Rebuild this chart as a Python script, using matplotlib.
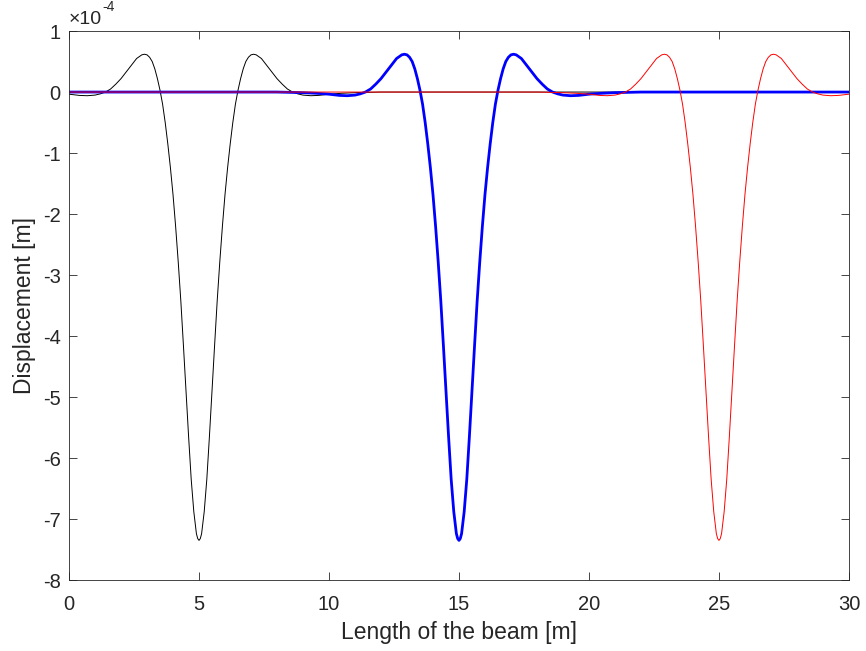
import matplotlib.pyplot as plt
import numpy as np

plt.rcParams['font.family'] = ['Liberation Sans', 'DejaVu Sans']
plt.rcParams['axes.unicode_minus'] = False

# deflection shape under one load (offset from load [m], w [1e-4 m])
offset = [-25.0, -15.0, -10.0, -7.0, -6.0, -5.5, -5.0, -4.6, -4.3, -4.0, -3.8, -3.6, -3.4,
          -3.2, -3.0, -2.8, -2.6, -2.4, -2.2, -2.1, -2.0, -1.9, -1.8, -1.7, -1.6,
          -1.5, -1.4, -1.3, -1.2, -1.1, -1.0, -0.9, -0.8, -0.7, -0.6, -0.5, -0.4,
          -0.3, -0.2, -0.1, -0.05, 0.0, 0.05, 0.1, 0.2, 0.3, 0.4, 0.5, 0.6, 0.7, 0.8, 0.9, 1.0,
          1.1, 1.2, 1.3, 1.4, 1.5, 1.6, 1.7, 1.8, 1.9, 2.0, 2.1, 2.2, 2.4, 2.6,
          2.8, 3.0, 3.2, 3.4, 3.6, 3.8, 4.0, 4.3, 4.6, 5.0, 5.5, 6.0, 7.0, 10.0, 15.0, 25.0]
shape = [0.0, 0.0, 0.0, 0.0, -0.01, -0.02, -0.035, -0.055, -0.06, -0.05, -0.03, 0.0, 0.05,
         0.13, 0.22, 0.33, 0.44, 0.55, 0.61, 0.62, 0.61, 0.57, 0.50, 0.38, 0.22,
         0.03, -0.20, -0.50, -0.85, -1.24, -1.68, -2.20, -2.78, -3.42, -4.15, -4.90, -5.65,
         -6.35, -6.88, -7.24, -7.32, -7.35, -7.32, -7.24, -6.88, -6.35, -5.65, -4.90, -4.15, -3.42, -2.78, -2.20, -1.68,
         -1.24, -0.85, -0.50, -0.20, 0.03, 0.22, 0.38, 0.50, 0.57, 0.61, 0.62, 0.61, 0.55, 0.44,
         0.33, 0.22, 0.13, 0.05, 0.0, -0.03, -0.05, -0.06, -0.055, -0.035, -0.02, -0.01, 0.0, 0.0, 0.0, 0.0]
load_pos = [5, 15, 25]
colors = ['black', 'blue', 'red']
widths = [0.7, 2.0, 0.7]

beam_len = 30
dark = '#262626'

fig = plt.figure(figsize=(8.66, 6.51), dpi=100)
ax = fig.add_axes([0.0797, 0.109, 0.9006, 0.8433])

off = np.array(offset)
for i in [0, 1, 2]:
    ax.plot(load_pos[i] + off, shape, color=colors[i], lw=widths[i])

ax.set_xlim(0, beam_len)
ax.set_ylim(-8, 1)
ax.set_xticks(range(0, 31, 5))
ax.set_yticks(range(-8, 2))
ax.tick_params(direction='in', top=True, right=True, length=6, width=0.6,
               color=dark, labelsize=14.5, labelcolor=dark, pad=6)
ax.tick_params(axis='x', pad=11)
for s in ax.spines.values():
    s.set_color(dark)
    s.set_linewidth(0.6)

ax.set_xlabel('Length of the beam [m]', fontsize=16.5, color=dark, labelpad=5)
ax.set_ylabel('Displacement [m]', fontsize=16.5, color=dark, labelpad=5)

# exponent label like matlab
ax.text(0.0, 1.006, '\u00d710', transform=ax.transAxes, fontsize=14,
        color=dark, va='bottom', ha='left')
ax.annotate('-4', xy=(0.0, 1.006), xycoords='axes fraction', xytext=(24, 10),
            textcoords='offset points', fontsize=10, color=dark, va='bottom', ha='left')

fig.savefig('out.png', dpi=100)
